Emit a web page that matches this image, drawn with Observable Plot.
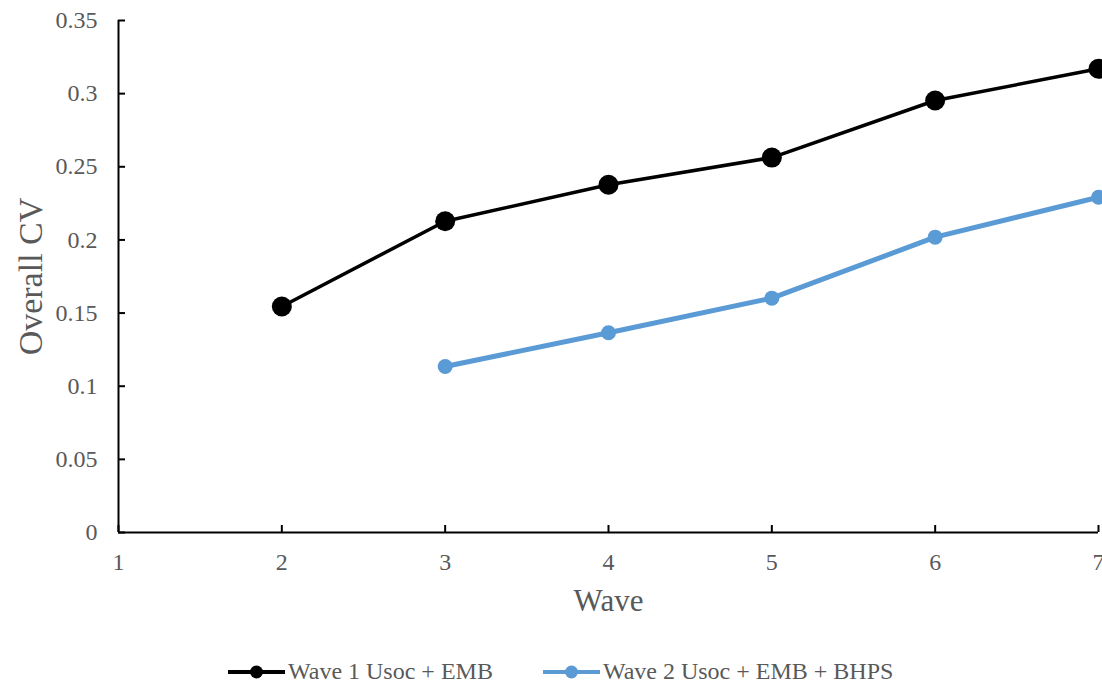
<!DOCTYPE html>
<html>
<head>
<meta charset="utf-8">
<script src="https://cdn.jsdelivr.net/npm/d3@7"></script>
<script src="https://cdn.jsdelivr.net/npm/@observablehq/plot@0.6"></script>
<style>
  html, body { margin: 0; padding: 0; background: #fff; overflow: hidden; }
  #wrap { position: relative; width: 1102px; height: 684px; }
  #legend { position: absolute; left: 228px; top: 658px; display: flex; align-items: center;
            font-family: "Liberation Serif", "Times New Roman", serif; font-size: 24px; color: #595959; }
  .item { display: flex; align-items: center; }
  .item svg { display: block; }
</style>
</head>
<body>
<div id="wrap">
  <div id="chart"></div>
  <div id="legend"></div>
</div>
<script>
const waves = [1, 2, 3, 4, 5, 6, 7];
const yTicks = [0, 0.05, 0.1, 0.15, 0.2, 0.25, 0.3, 0.35];
const seriesNames = ["Wave 1 Usoc + EMB", "Wave 2 Usoc + EMB + BHPS"];
const seriesColors = ["#000000", "#5B9BD5"];
const wave1X = [2, 3, 4, 5, 6, 7];
const wave1Y = [0.1545, 0.2128, 0.2377, 0.2563, 0.2953, 0.317];
const wave2X = [3, 4, 5, 6, 7];
const wave2Y = [0.1135, 0.1365, 0.1602, 0.2019, 0.2292];

const s1 = wave1X.map((x, i) => ({wave: x, cv: wave1Y[i]}));
const s2 = wave2X.map((x, i) => ({wave: x, cv: wave2Y[i]}));

const font = '"Liberation Serif", "Times New Roman", serif';
const grey = "#595959";

const chart = Plot.plot({
  width: 1102,
  height: 640,
  marginLeft: 118,
  marginRight: 4,
  marginTop: 20,
  marginBottom: 108,
  style: {fontFamily: font, color: grey, background: "white", overflow: "hidden"},
  x: {domain: [1, 7]},
  y: {domain: [0, 0.35]},
  marks: [
    Plot.axisX({ticks: waves, tickFormat: d => String(d), tickSize: -7, tickPadding: 27, fontSize: 24, fontFamily: font, label: null, stroke: "#000", strokeWidth: 2, fill: grey}),
    Plot.axisY({ticks: yTicks, tickFormat: d => String(+d.toFixed(2)), tickSize: -7, tickPadding: 28, fontSize: 24, fontFamily: font, label: null, stroke: "#000", strokeWidth: 2, fill: grey}),
    Plot.ruleY([0], {stroke: "#000", strokeWidth: 2}),
    Plot.ruleX([1], {stroke: "#000", strokeWidth: 2}),
    Plot.line(s1, {x: "wave", y: "cv", stroke: seriesColors[0], strokeWidth: 3.5}),
    Plot.dot(s1, {x: "wave", y: "cv", r: 10, fill: seriesColors[0], stroke: null}),
    Plot.line(s2, {x: "wave", y: "cv", stroke: seriesColors[1], strokeWidth: 5}),
    Plot.dot(s2, {x: "wave", y: "cv", r: 7.5, fill: seriesColors[1], stroke: null}),
    Plot.text(["Overall CV"], {frameAnchor: "left", dx: -87, rotate: -90, textAnchor: "middle", lineAnchor: "middle", fontSize: 34, fontFamily: font, fill: grey}),
    Plot.text(["Wave"], {frameAnchor: "bottom", dy: 69, textAnchor: "middle", lineAnchor: "middle", fontSize: 31, fontFamily: font, fill: grey})
  ]
});
document.getElementById("chart").appendChild(chart);

const legend = document.getElementById("legend");
seriesNames.forEach((name, i) => {
  const item = document.createElement("div");
  item.className = "item";
  if (i > 0) item.style.marginLeft = "50px";
  item.innerHTML = `<svg width="58" height="20"><line x1="0" y1="10" x2="57" y2="10" stroke="${seriesColors[i]}" stroke-width="4"/><circle cx="28.5" cy="10" r="6.5" fill="${seriesColors[i]}"/></svg><span style="margin-left:2px">${name}</span>`;
  legend.appendChild(item);
});
</script>
</body>
</html>
